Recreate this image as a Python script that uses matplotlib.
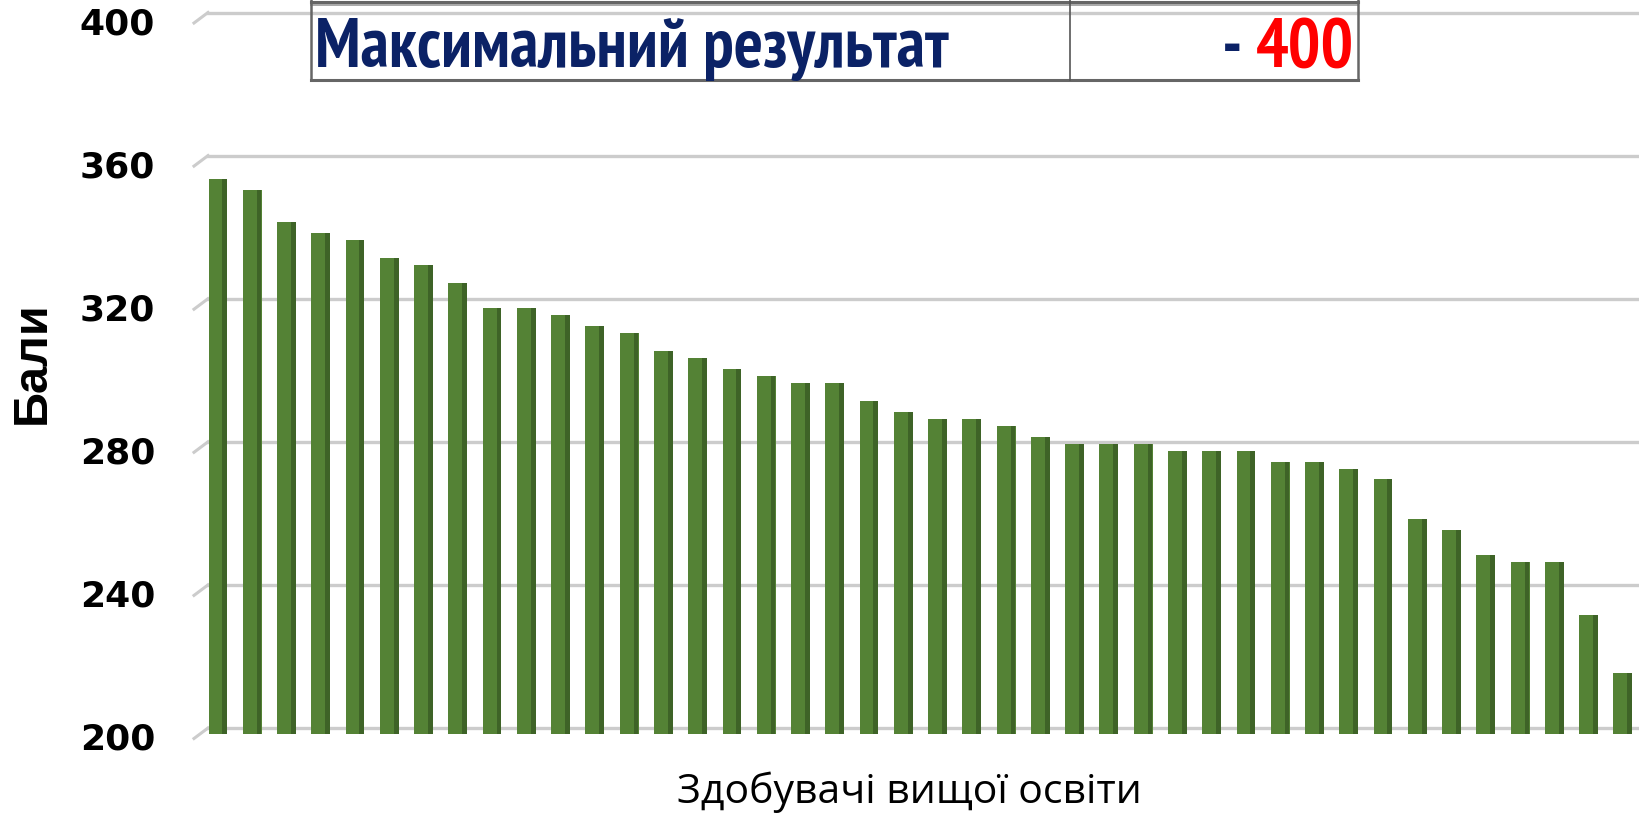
import numpy as np
import matplotlib
matplotlib.use("Agg")
import matplotlib.pyplot as plt
import matplotlib.font_manager as fm
from matplotlib.ft2font import FT2Font
from matplotlib.lines import Line2D
from matplotlib.transforms import ScaledTranslation

# Дані: бали здобувачів (відсортовано)
scores = [355, 352, 343, 340, 338, 333, 331, 326, 319, 319, 317, 314, 312, 307,
          305, 302, 300, 298, 298, 293, 290, 288, 288, 286, 283, 281, 281, 281,
          279, 279, 279, 276, 276, 274, 271, 260, 257, 250, 248, 248, 233, 217]
y_ticks = [200, 240, 280, 320, 360, 400]
y_title = "Бали"
x_title = "Здобувачі вищої освіти"
table_label = "Максимальний результат"
table_value = "400"


def weight_num(w):
    if isinstance(w, (int, float)):
        return w
    return {"bold": 700, "heavy": 800, "black": 900, "semibold": 600,
            "demibold": 600}.get(str(w).lower(), 400)


def has_glyphs(fname, text):
    try:
        cmap = FT2Font(fname).get_charmap()
    except Exception:
        return False
    return all(ord(c) in cmap for c in set(text) if c != " ")


W, H = 1639, 817
fig = plt.figure(figsize=(W / 100, H / 100), dpi=100)
r = fig.canvas.get_renderer()

# вибираємо найвужчий жирний шрифт з кирилицею для таблиці
cands = [fm.FontProperties(family="Liberation Sans", weight="bold")]
for f in fm.fontManager.ttflist:
    key = (f.fname + f.name).lower()
    if (("narrow" in key or "cond" in key) and weight_num(f.weight) >= 600
            and has_glyphs(f.fname, table_label + table_value)):
        cands.append(fm.FontProperties(fname=f.fname))
best, best_w = None, None
for p in cands:
    t = fig.text(0, 0, table_label, fontproperties=p, fontsize=46)
    try:
        w = t.get_window_extent(r).width
    except Exception:
        w = None
    t.remove()
    if w and (best_w is None or w < best_w):
        best, best_w = p, w
narrow_prop = best

ax = fig.add_axes([208 / W, (H - 733.5) / H, 1 - 208 / W, (733.5 - 18) / H])
ax.patch.set_alpha(0)

x = np.arange(len(scores))
base = y_ticks[0]
heights = np.array(scores) - base
# передня грань та темніша бічна грань стовпчика
ax.bar(x, heights, bottom=base, width=0.55, color="#548235", zorder=3)
ax.bar(x + 0.2, heights, bottom=base, width=0.14, color="#3e6327", zorder=4)

ax.set_xlim(-0.29, 41.47)
ax.set_ylim(200, 400)
ax.set_yticks(y_ticks)
ax.set_xticks([])
for s in ax.spines.values():
    s.set_visible(False)
ax.tick_params(axis="y", length=0, pad=38)
for lab in ax.get_yticklabels():
    lab.set_fontfamily("DejaVu Sans")
    lab.set_fontweight("bold")
    lab.set_fontsize(26)
    lab.set_transform(lab.get_transform() + ScaledTranslation(0, -0.025, fig.dpi_scale_trans))

# лінії сітки на задній стінці (ефект 3D) та косі з'єднання
tr = ax.get_yaxis_transform()
back = tr + ScaledTranslation(0, 0.055, fig.dpi_scale_trans)
front = tr + ScaledTranslation(-0.14, -0.05, fig.dpi_scale_trans)
for v in y_ticks:
    ax.plot([0, 1], [v, v], color="#cccccc", lw=2.4, transform=back,
            clip_on=False, zorder=1)
    p0 = front.transform((0, v))
    p1 = back.transform((0, v))
    fig.add_artist(Line2D([p0[0] / W, p1[0] / W], [p0[1] / H, p1[1] / H],
                          color="#cccccc", lw=2.2, zorder=0))

fig.text(32 / W, 1 - 363 / H, y_title, rotation=90, ha="center", va="center",
         fontsize=35, fontweight="bold", family="Liberation Sans")
fig.text(909 / W, 1 - 803 / H, x_title, ha="center", va="baseline",
         fontsize=29.5, family="Open Sans")

# фрагмент таблиці зверху
def fline(x0, y0, x1, y1, c="#666666", lw=1.8):
    fig.add_artist(Line2D([x0 / W, x1 / W], [1 - y0 / H, 1 - y1 / H], color=c, lw=lw))

fline(311, 2, 1358, 2, lw=2.2)
fline(311, 4.5, 1358, 4.5, c="#999999", lw=1.2)
fline(311, 80, 1358, 80, lw=2.2)
fline(311, 0, 311, 80)
fline(1358, 0, 1358, 80)
fline(1069.5, 0, 1069.5, 80, c="#555555", lw=1.2)

t_lab = fig.text(315 / W, 1 - 67 / H, table_label, ha="left", va="baseline",
                 fontproperties=narrow_prop, fontsize=46, color="#0b2266")
t_val = fig.text(1354 / W, 1 - 67 / H, table_value, ha="right", va="baseline",
                 fontproperties=narrow_prop, fontsize=46, color="#ff0000")
t_dash = fig.text(1240 / W, 1 - 67 / H, "-", ha="center", va="baseline",
                  fontproperties=narrow_prop, fontsize=46, color="#0b2266")

# підгонка ширини тексту таблиці під оригінал
wl = t_lab.get_window_extent(r).width
scale = min(1.1, 633 / wl)
for t in (t_lab, t_val, t_dash):
    t.set_fontsize(46 * scale)
x0_val = t_val.get_window_extent(r).x0
t_dash.set_x((x0_val - 24) / W)

fig.savefig("out.png", dpi=100)
